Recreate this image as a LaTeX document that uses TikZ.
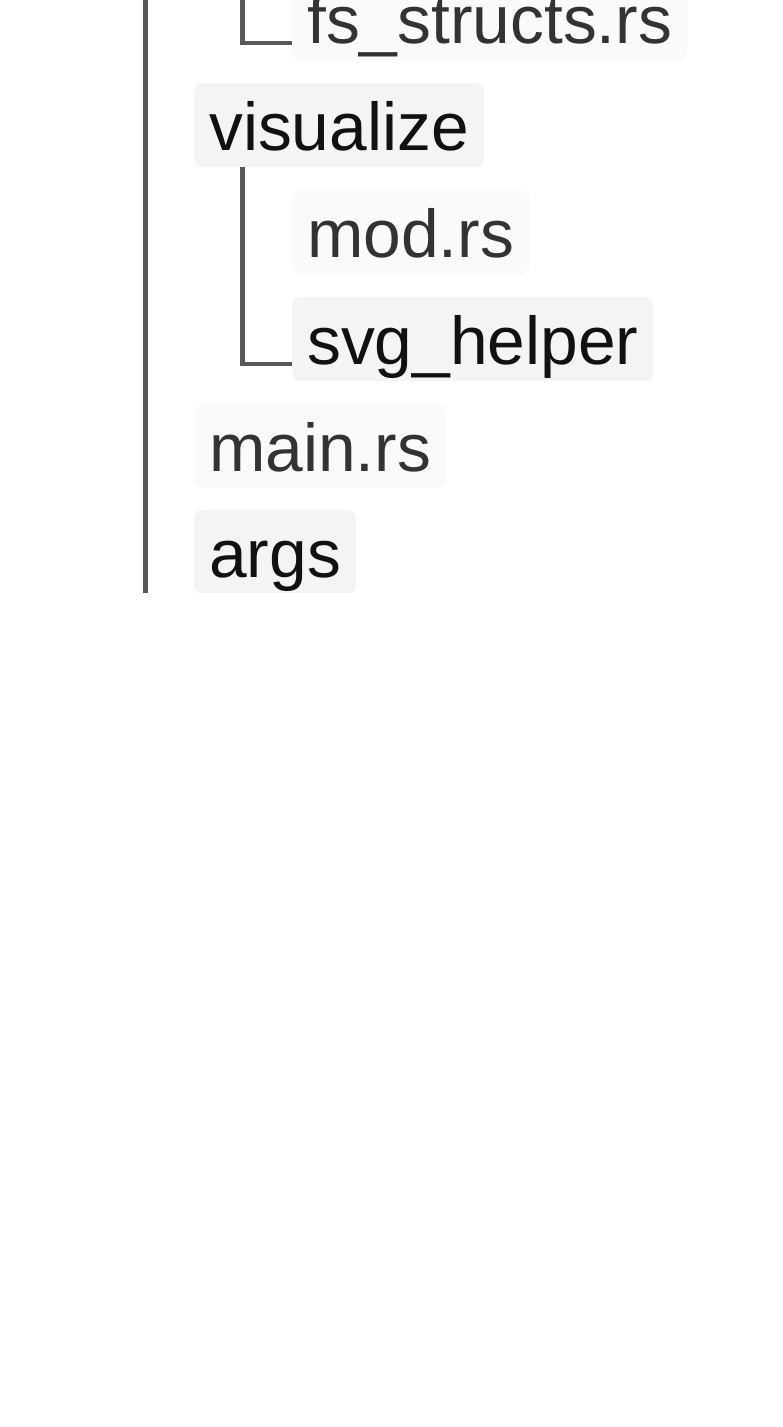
\documentclass[tikz,border=0pt]{standalone}
\usepackage{fontspec}
\setmainfont{Liberation Sans}
\definecolor{linec}{HTML}{585858}
\definecolor{filebg}{HTML}{FAFAFA}
\definecolor{dirbg}{HTML}{F4F4F4}
\definecolor{filetxt}{HTML}{333333}
\definecolor{dirtxt}{HTML}{111111}
\tikzset{
  entry/.style={anchor=north west, rounded corners=8pt, inner xsep=15pt, inner ysep=0pt,
    text height=67pt, text depth=17pt, font=\fontsize{67.7}{80}\selectfont},
  filebox/.style={entry, fill=filebg, text=filetxt},
  dirbox/.style={entry, fill=dirbg, text=dirtxt},
  conn/.style={draw=linec, line width=4.5pt}
}
\begin{document}
\begin{tikzpicture}[x=1pt,y=-1pt]
\useasboundingbox (0,0) rectangle (783,1427);
\clip (0,0) rectangle (783,592);
\node[filebox] (fs) at (292,-24) {fs\_structs.rs};
\node[dirbox] (vis) at (194,83) {visualize};
\node[filebox] (mod) at (292,190) {mod.rs};
\node[dirbox] (svg) at (292,297) {svg\_helper};
\node[filebox] (main) at (194,404) {main.rs};
\node[dirbox] (args) at (194,510) {args};
\coordinate (roottop) at (145.5,-5);
\coordinate (rootbot) at (145.5,600);
\coordinate (fstop) at (242.5,-5);
\draw[conn] (roottop) -- (rootbot);
\draw[conn] (fstop) |- (fs.base west);
\draw[conn] ([xshift=48.5pt]vis.south west) |- (svg.base west);
\end{tikzpicture}
\end{document}
